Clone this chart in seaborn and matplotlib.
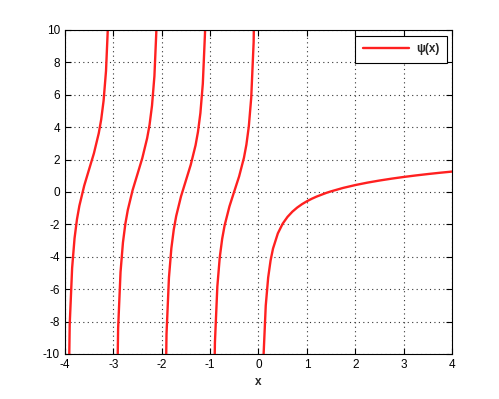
import matplotlib

matplotlib.use("Agg")
import matplotlib.pyplot as plt
import pandas as pd
import seaborn as sns

# digamma branches, values
x_b1 = [-3.95, -3.9, -3.85, -3.8, -3.75, -3.7, -3.6, -3.5, -3.4, -3.3, -3.25, -3.2, -3.15, -3.1, -3.05]
y_b1 = [-18.35, -8.18, -4.69, -2.86, -1.69, -0.85, 0.39, 1.39, 2.38, 3.62, 4.46, 5.63, 7.47, 10.95, 21.1]

x_b2 = [-2.95, -2.9, -2.85, -2.8, -2.75, -2.7, -2.6, -2.5, -2.4, -2.3, -2.25, -2.2, -2.15, -2.1, -2.05]
y_b2 = [-18.60, -8.44, -4.95, -3.12, -1.96, -1.12, 0.115, 1.10, 2.09, 3.32, 4.15, 5.32, 7.15, 10.63, 20.8]

x_b3 = [-1.95, -1.9, -1.85, -1.8, -1.75, -1.7, -1.6, -1.5, -1.4, -1.3, -1.25, -1.2, -1.15, -1.1, -1.05]
y_b3 = [-18.94, -8.78, -5.30, -3.48, -2.32, -1.49, -0.27, 0.70, 1.67, 2.88, 3.71, 4.87, 6.68, 10.15, 20.3]

x_b4 = [-0.95, -0.9, -0.85, -0.8, -0.75, -0.7, -0.6, -0.5, -0.4, -0.3, -0.25, -0.2, -0.15, -0.1, -0.05]
y_b4 = [-19.45, -9.31, -5.84, -4.04, -2.894, -2.074, -0.895, 0.0365, 0.959, 2.113, 2.914, 4.035, 5.81, 9.245, 19.34]

x_b5 = [0.05, 0.08, 0.1, 0.15, 0.2, 0.25, 0.3, 0.4, 0.5, 0.6, 0.7, 0.8, 0.9, 1.0, 1.1, 1.2, 1.4,
        1.5, 1.75, 2.0, 2.25, 2.5, 2.75, 3.0, 3.25, 3.5, 3.75, 4.0]
y_b5 = [-20.5, -12.95, -10.42, -7.02, -5.29, -4.23, -3.50, -2.56, -1.96, -1.54, -1.22, -0.965, -0.755,
        -0.577, -0.424, -0.289, -0.061, 0.036, 0.248, 0.423, 0.573, 0.703, 0.819, 0.923, 1.017, 1.103,
        1.183, 1.256]

x_ticks = [-4, -3, -2, -1, 0, 1, 2, 3, 4]
y_ticks = [-10, -8, -6, -4, -2, 0, 2, 4, 6, 8, 10]

sns.set_style("ticks")
plt.rcParams["font.family"] = ["Liberation Sans", "DejaVu Sans"]
plt.rcParams["axes.unicode_minus"] = False

fig = plt.figure(figsize=(4.99, 3.99), dpi=100)
ax = fig.add_axes([0.130, 0.113, 0.776, 0.812])

branches = [(x_b1, y_b1), (x_b2, y_b2), (x_b3, y_b3), (x_b4, y_b4), (x_b5, y_b5)]
for i, (bx, by) in enumerate(branches):
    df = pd.DataFrame({"x": bx, "y": by})
    sns.lineplot(
        data=df, x="x", y="y", ax=ax, color="#ff2020", linewidth=1.7,
        sort=False, estimator=None, label="ψ(x)" if i == 0 else None,
    )

ax.set_xlim(-4, 4)
ax.set_ylim(-10, 10)
ax.set_xticks(x_ticks)
ax.set_yticks(y_ticks)
ax.tick_params(direction="in", length=4, width=0.8, top=True, right=True, labelsize=8.5, colors="black")
ax.grid(True, linestyle=(0, (1, 3)), color="#333333", linewidth=0.8)
for s in ax.spines.values():
    s.set_color("black")
    s.set_linewidth(0.8)

ax.set_xlabel("x", fontsize=8.5, fontweight="bold")
ax.set_ylabel("")

leg = ax.legend(loc="upper right", fontsize=8.5, frameon=True, fancybox=False, framealpha=1,
                handlelength=3.9, borderpad=0.65, handletextpad=0.6,
                bbox_to_anchor=(0.987, 0.982), borderaxespad=0)
leg.get_frame().set_edgecolor("black")
leg.get_frame().set_linewidth(0.8)
for t in leg.get_texts():
    t.set_fontweight("bold")

fig.savefig("out.png", dpi=100, facecolor="white")
